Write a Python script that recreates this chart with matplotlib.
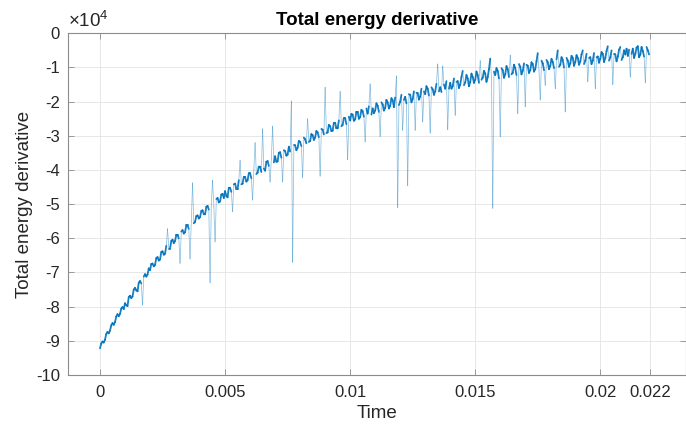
import matplotlib

matplotlib.use("Agg")

import matplotlib.pyplot as plt
import numpy as np
from matplotlib.collections import LineCollection
from matplotlib.colors import to_rgba

plt.rcParams["font.family"] = ["Liberation Sans", "DejaVu Sans"]
plt.rcParams["mathtext.fontset"] = "custom"
plt.rcParams["mathtext.rm"] = "Liberation Sans"
plt.rcParams["axes.unicode_minus"] = False

# time span of the record (s)
T_START = 0.0
T_END = 0.02195

# total energy derivative, in units of 1e4, one value per 5e-5 s
energy_deriv = [
    -9.22, -9.08, -9.02, -9.05, -8.97, -8.80, -8.74, -8.78, -8.70, -8.55,
    -8.48, -8.53, -8.45, -8.29, -8.22, -8.28, -8.21, -8.06, -8.01, -8.07,
    -7.90, -7.96, -7.98, -7.72, -7.68, -7.75, -7.70, -7.50, -7.45, -7.52,
    -7.55, -7.30, -7.25, -7.32, -7.95, -7.12, -7.05, -7.12, -7.06, -6.88,
    -6.93, -6.75, -6.74, -6.82, -6.78, -6.58, -6.55, -6.65, -6.62, -6.40,
    -6.38, -6.48, -6.45, -6.22, -5.72, -6.30, -6.30, -6.08, -6.04, -6.14,
    -6.08, -5.90, -5.90, -6.00, -6.73, -5.80, -5.76, -5.86, -5.82, -5.62,
    -5.62, -5.72, -6.60, -5.50, -4.38, -5.56, -5.52, -5.35, -5.33, -5.42,
    -5.38, -5.20, -5.18, -5.30, -5.30, -5.08, -5.05, -5.16, -7.30, -5.00,
    -4.30, -5.06, -6.10, -4.85, -4.82, -4.95, -4.92, -4.72, -4.70, -4.82,
    -4.62, -4.76, -4.80, -4.52, -4.52, -4.64, -5.22, -4.42, -4.40, -4.55,
    -4.55, -4.30, -3.72, -4.42, -4.40, -4.20, -4.20, -4.34, -4.30, -4.10,
    -4.10, -4.24, -4.88, -4.00, -3.20, -4.12, -4.08, -3.90, -3.90, -4.06,
    -2.80, -3.96, -4.02, -3.76, -3.74, -3.88, -4.35, -3.66, -2.72, -3.78,
    -3.60, -3.76, -3.75, -3.50, -3.48, -3.64, -4.35, -3.42, -3.45, -3.58,
    -3.55, -3.32, -3.46, -1.98, -6.70, -3.28, -3.28, -3.42, -3.35, -3.15,
    -3.18, -3.30, -4.22, -3.05, -3.10, -3.22, -2.50, -3.18, -3.15, -2.95,
    -2.98, -3.12, -3.05, -2.86, -2.90, -3.04, -4.18, -2.80, -2.82, -2.96,
    -1.58, -2.92, -2.90, -2.68, -2.72, -2.86, -2.85, -2.62, -2.62, -2.78,
    -2.78, -2.55, -1.70, -2.72, -2.68, -2.48, -2.48, -2.66, -3.70, -2.44,
    -2.55, -2.36, -2.38, -2.56, -2.52, -2.30, -2.30, -2.50, -2.45, -2.24,
    -2.28, -2.44, -3.18, -2.20, -2.35, -2.14, -1.48, -2.38, -2.20, -2.34,
    -2.26, -2.05, -2.12, -2.30, -3.02, -2.02, -2.08, -2.26, -2.18, -1.95,
    -2.02, -2.20, -2.12, -1.90, -1.96, -2.16, -1.88, -1.25, -5.10, -2.10,
    -2.00, -1.80, -2.84, -1.95, -1.86, -2.05, -4.46, -1.78, -1.80, -2.02,
    -1.92, -1.70, -2.84, -1.74, -1.75, -1.94, -1.85, -1.62, -2.59, -1.70,
    -1.78, -1.55, -1.62, -1.82, -2.92, -1.58, -1.64, -1.80, -1.70, -1.48,
    -0.90, -1.70, -1.58, -1.72, -0.96, -1.50, -1.62, -1.40, -2.82, -1.62,
    -1.45, -1.62, -1.55, -1.32, -2.40, -1.42, -1.40, -1.60, -1.50, -1.28,
    -1.10, -1.52, -1.44, -1.22, -1.32, -1.55, -1.42, -1.18, -1.28, -1.45,
    -1.36, -1.12, -1.22, -1.45, -0.80, -1.36, -1.30, -1.10, -1.18, -1.42,
    -1.28, -1.05, -0.74, -1.30, -5.12, -1.12, -1.22, -1.02, -1.10, -1.32,
    -3.03, -1.02, -1.08, -1.30, -1.20, -0.96, -1.05, -1.28, -0.64, -1.20,
    -1.16, -0.92, -1.02, -1.22, -2.35, -0.90, -0.98, -1.20, -1.10, -0.88,
    -2.15, -0.92, -0.95, -1.16, -1.08, -0.85, -0.90, -1.12, -1.05, -0.82,
    -0.58, -1.10, -1.95, -0.80, -0.88, -1.08, -1.52, -0.78, -0.85, -1.05,
    -0.95, -0.75, -0.84, -1.02, -1.62, -0.76, -0.50, -0.98, -0.92, -0.70,
    -0.78, -1.00, -2.30, -0.72, -0.80, -0.98, -0.88, -0.66, -0.72, -0.95,
    -0.84, -0.64, -0.72, -0.92, -0.82, -0.62, -0.50, -0.90, -0.80, -0.60,
    -1.42, -0.72, -0.70, -0.90, -0.80, -0.58, -1.62, -0.70, -0.68, -0.86,
    -0.74, -0.55, -0.60, -0.84, -0.72, -0.52, -0.38, -0.80, -0.70, -0.50,
    -1.50, -0.62, -0.62, -0.82, -0.68, -0.48, -0.40, -0.78, -0.70, -0.50,
    -0.62, -0.45, -0.66, -0.48, -1.28, -0.60, -0.45, -0.72, -0.60, -0.42,
    -0.38, -0.70, -0.62, -0.40, -0.52, -0.68, -1.45, -0.40, -0.50, -0.62,
]

x_ticks = [0, 0.005, 0.01, 0.015, 0.02, 0.022]
x_tick_labels = ["0", "0.005", "0.01", "0.015", "0.02", "0.022"]
y_ticks = [0, -1, -2, -3, -4, -5, -6, -7, -8, -9, -10]

LINE_COLOR = "#0072BD"
AXIS_COLOR = "#262626"
SPINE_COLOR = "#8c8c8c"
SPIKE_JUMP = 0.35  # steps larger than this are drawn thin and faint, like the dense original

time = np.linspace(T_START, T_END, len(energy_deriv))

fig = plt.figure(figsize=(6.86, 4.26), dpi=100)
ax = fig.add_axes([68.3 / 686, 1 - 375 / 426, 1 - 68.3 / 686, (375 - 33.3) / 426])

# one polyline, split in segments so the big jumps render thin and light
pts = np.column_stack([time, energy_deriv])
segs = np.stack([pts[:-1], pts[1:]], axis=1)
jump = np.abs(np.diff(energy_deriv)) > SPIKE_JUMP
widths = np.where(jump, 0.55, 1.3)
colors = [to_rgba(LINE_COLOR, 0.45) if j else to_rgba(LINE_COLOR, 0.9) for j in jump]
ax.add_collection(LineCollection(segs, linewidths=widths, colors=colors, capstyle="round"))

ax.set_xlim(-0.001267, 0.023426)
ax.set_ylim(-10, 0)
ax.set_xticks(x_ticks)
ax.set_xticklabels(x_tick_labels)
ax.set_yticks(y_ticks)
ax.set_yticklabels([str(v) for v in y_ticks])

ax.grid(True, color="#e3e3e3", lw=0.6)
ax.set_axisbelow(True)
for side in ("left", "bottom", "top", "right"):
    ax.spines[side].set_color(SPINE_COLOR)
    ax.spines[side].set_linewidth(0.8)
ax.tick_params(axis="both", direction="in", length=4, width=0.6, color=SPINE_COLOR,
               labelsize=12, labelcolor=AXIS_COLOR, top=True, right=True)
ax.tick_params(axis="x", pad=7)
ax.tick_params(axis="y", pad=6)

ax.set_title("Total energy derivative", fontsize=13.5, fontweight="bold", pad=6)
ax.set_xlabel("Time", fontsize=13.5, color=AXIS_COLOR, labelpad=4)
ax.set_ylabel("Total energy derivative", fontsize=13.5, color=AXIS_COLOR, labelpad=2)
ax.text(0.0, 1.008, r"$\times10^{4}$", transform=ax.transAxes, fontsize=13.5,
        color=AXIS_COLOR, ha="left", va="bottom")

fig.savefig("out.png", dpi=100)
